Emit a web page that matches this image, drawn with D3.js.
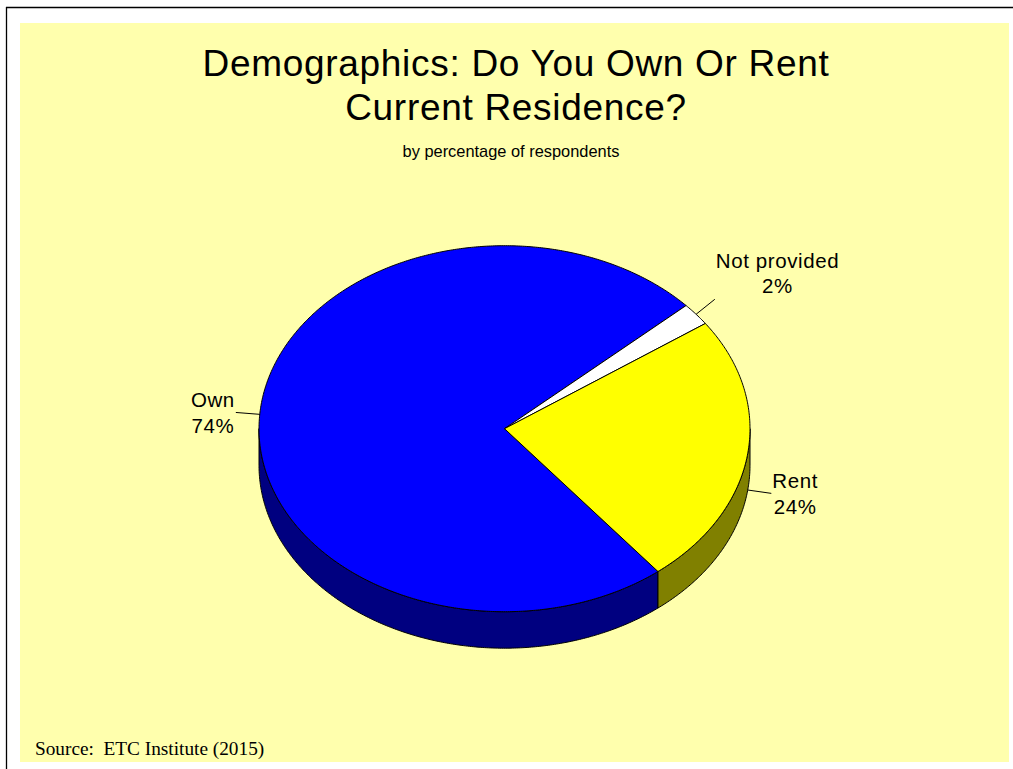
<!DOCTYPE html>
<html>
<head>
<meta charset="utf-8">
<script src="https://cdn.jsdelivr.net/npm/d3@7"></script>
<style>
  html, body { margin: 0; padding: 0; background: #ffffff; }
  svg { display: block; }
</style>
</head>
<body>
<svg id="chart" width="1013" height="769"></svg>
<script>
// ---- data ----
const categories = ["Own", "Not provided", "Rent"];
const values = [74, 2, 24];
const valueLabels = ["74%", "2%", "24%"];
const topColors = ["#0000ff", "#ffffff", "#ffff00"];
const sideColors = ["#000080", "#808080", "#808000"];
const titleLines = ["Demographics: Do You Own Or Rent", "Current Residence?"];
const subtitle = "by percentage of respondents";
const sourceText = "Source:  ETC Institute (2015)";

// ---- layout ----
const W = 1013, H = 769;
const svg = d3.select("#chart");

// frame lines
svg.append("line").attr("x1", 6).attr("x2", W).attr("y1", 7.5).attr("y2", 7.5)
  .attr("stroke", "#000").attr("stroke-width", 1.3);
svg.append("line").attr("x1", 6.5).attr("x2", 6.5).attr("y1", 7).attr("y2", H)
  .attr("stroke", "#000").attr("stroke-width", 1.3);

// background panel
svg.append("rect").attr("x", 20).attr("y", 23).attr("width", 989).attr("height", 739)
  .attr("fill", "#ffffad");

// titles
const font = "'Liberation Sans', Arial, Helvetica, sans-serif";
svg.selectAll("text.title").data(titleLines).join("text")
  .attr("class", "title")
  .attr("x", 516)
  .attr("y", (d, i) => 75.5 + i * 44.5)
  .attr("text-anchor", "middle")
  .attr("font-family", font)
  .attr("font-size", 37)
  .attr("letter-spacing", 0.7)
  .attr("fill", "#000")
  .text(d => d);

svg.append("text")
  .attr("x", 511).attr("y", 157)
  .attr("text-anchor", "middle")
  .attr("font-family", font)
  .attr("font-size", 16.4)
  .text(subtitle);

svg.append("text")
  .attr("x", 35).attr("y", 755)
  .attr("font-family", "'Liberation Serif', 'Times New Roman', serif")
  .attr("font-size", 19.3)
  .style("white-space", "pre")
  .attr("xml:space", "preserve")
  .text(sourceText);

// ---- 3D pie ----
const cx = 504.5, cy = 428.7, rx = 245.5, ry = 183, depth = 36.5;
const deg = Math.PI / 180;
const pie = d3.pie().sort(null).value(d => d.value)
  .startAngle(141.3 * deg).endAngle(141.3 * deg + 2 * Math.PI);
const data = categories.map((c, i) => ({ name: c, value: values[i], label: valueLabels[i],
  top: topColors[i], side: sideColors[i] }));
const arcs = pie(data);

const px = a => cx + rx * Math.sin(a);
const py = a => cy - ry * Math.cos(a);
const line = d3.line();

function arcPoints(a0, a1, dy) {
  const n = Math.max(2, Math.ceil(Math.abs(a1 - a0) / (0.5 * deg)));
  return d3.range(n + 1).map(k => {
    const a = a0 + (a1 - a0) * k / n;
    return [px(a), py(a) + dy];
  });
}

const gSide = svg.append("g");
const gTop = svg.append("g");

arcs.forEach(d => {
  // visible front walls: angles in [pi/2, 3pi/2] (+ 2pi k)
  [0, 1].forEach(k => {
    const lo = Math.PI / 2 + 2 * Math.PI * k, hi = 3 * Math.PI / 2 + 2 * Math.PI * k;
    const b0 = Math.max(d.startAngle, lo), b1 = Math.min(d.endAngle, hi);
    if (b1 > b0) {
      const pts = arcPoints(b0, b1, 0).concat(arcPoints(b1, b0, depth));
      gSide.append("path")
        .attr("d", line(pts) + "Z")
        .attr("fill", d.data.side)
        .attr("stroke", "#000")
        .attr("stroke-width", 1)
        .attr("stroke-linejoin", "round");
    }
  });
});

arcs.forEach(d => {
  const pts = [[cx, cy]].concat(arcPoints(d.startAngle, d.endAngle, 0));
  gTop.append("path")
    .attr("d", line(pts) + "Z")
    .attr("fill", d.data.top)
    .attr("stroke", "#000")
    .attr("stroke-width", 1)
    .attr("stroke-linejoin", "round");
});

// ---- labels ----
const fs = 20.5, lh = 25.5, leaderLen = 24;
const gLab = svg.append("g");
arcs.forEach(d => {
  const m = (d.startAngle + d.endAngle) / 2;
  const ux = Math.sin(m), uy = -Math.cos(m);
  const sx = px(m), sy = py(m) + (uy > 0 ? depth - 1 : 0);
  const ex = sx + ux * leaderLen, ey = sy + uy * leaderLen;
  gLab.append("line").attr("x1", sx).attr("y1", sy).attr("x2", ex).attr("y2", ey)
    .attr("stroke", "#000").attr("stroke-width", 1);

  const lines = [d.data.name, d.data.label];
  const t = gLab.append("text")
    .attr("font-family", font).attr("font-size", fs)
    .attr("letter-spacing", 0.6)
    .attr("text-anchor", "middle");
  const spans = t.selectAll("tspan").data(lines).join("tspan").text(s => s);
  const widths = [];
  spans.each(function () { widths.push(this.getComputedTextLength()); });
  const bw = d3.max(widths);
  const bx = ux >= 0 ? ex + 1 : ex - 1 - bw;
  const midX = bx + bw / 2;
  let firstBase;
  if (Math.abs(uy) > 0.5) {
    firstBase = uy < 0 ? ey - 6 - lh * (lines.length - 1) : ey + 15;
  } else {
    firstBase = ey - 5;
  }
  spans.attr("x", midX).attr("y", (s, i) => firstBase + i * lh);
});
</script>
</body>
</html>
